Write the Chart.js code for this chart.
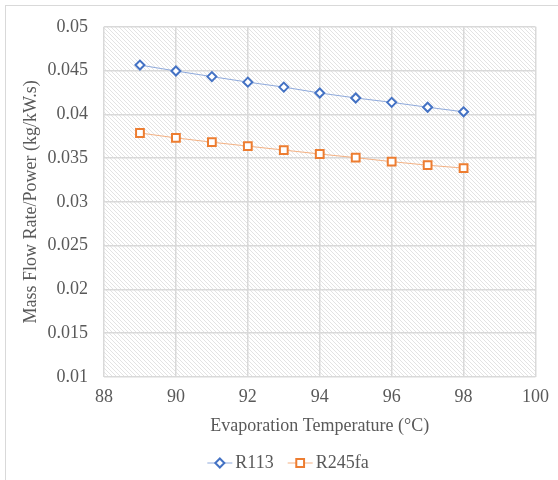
<!DOCTYPE html>
<html>
<head>
<meta charset="utf-8">
<title>Mass Flow Rate / Power</title>
<script src="https://cdn.jsdelivr.net/npm/chart.js@4.4.1/dist/chart.umd.min.js"></script>
<style>
  html, body { margin: 0; padding: 0; background: #fff; }
  #wrap { width: 558px; height: 480px; position: relative; }
</style>
</head>
<body>
<div id="wrap"><canvas id="flowChart" width="558" height="480"></canvas></div>
<script>
// Evaporation temperature (°C) and mass flow rate per unit power (kg/kW.s)
const temperatures = [89, 90, 91, 92, 93, 94, 95, 96, 97, 98];
const r113Values = [0.04563, 0.04495, 0.04431, 0.04368, 0.04311, 0.04244, 0.04187, 0.04137, 0.04081, 0.04029];
const r245faValues = [0.03787, 0.03731, 0.03682, 0.03637, 0.03592, 0.03547, 0.03505, 0.0346, 0.03419, 0.03386];
const seriesNames = ["R113", "R245fa"];
const xTicks = [88, 90, 92, 94, 96, 98, 100];
const yTicks = [0.01, 0.015, 0.02, 0.025, 0.03, 0.035, 0.04, 0.045, 0.05];

const FONT = "'Liberation Serif', 'Times New Roman', serif";
const FONT_SIZE = 18;
const TEXT_COLOR = "#595959";
const GRID_COLOR = "#d9d9d9";

// Fine diagonal hatch used to fill the plot area
function makeHatch(ctx) {
  const c = document.createElement("canvas");
  c.width = 4;
  c.height = 4;
  const g = c.getContext("2d");
  g.fillStyle = "#ffffff";
  g.fillRect(0, 0, 4, 4);
  g.strokeStyle = "#e3e3e3";
  g.lineWidth = 1;
  g.beginPath();
  g.moveTo(-1, -1); g.lineTo(5, 5);
  g.moveTo(-1, 3); g.lineTo(1, 5);
  g.moveTo(3, -1); g.lineTo(5, 1);
  g.stroke();
  return ctx.createPattern(c, "repeat");
}

const hatchPlugin = {
  id: "hatch",
  beforeDraw(chart) {
    const { ctx, chartArea } = chart;
    ctx.save();
    // outer frame of the figure
    ctx.strokeStyle = GRID_COLOR;
    ctx.lineWidth = 1;
    ctx.strokeRect(5.5, 5.5, 600, 520);
    ctx.fillStyle = makeHatch(ctx);
    ctx.fillRect(chartArea.left, chartArea.top, chartArea.right - chartArea.left, chartArea.bottom - chartArea.top);
    ctx.restore();
  }
};

// Legend drawn as line + marker + label, centred under the plot
const lineLegend = {
  id: "lineLegend",
  afterDraw(chart) {
    const ctx = chart.ctx;
    const y = 463;
    const lineLen = 25;
    ctx.save();
    ctx.font = FONT_SIZE + "px " + FONT;
    ctx.textBaseline = "middle";
    const items = chart.data.datasets.map((ds) => ({ ds, w: lineLen + 3 + ctx.measureText(ds.label).width }));
    const gap = 14;
    const total = items.reduce((s, it) => s + it.w, 0) + gap * (items.length - 1);
    let x = 288 - total / 2;
    items.forEach(({ ds, w }) => {
      const cx = x + lineLen / 2;
      ctx.strokeStyle = ds.borderColor;
      ctx.lineWidth = 1;
      ctx.beginPath();
      ctx.moveTo(x, y);
      ctx.lineTo(x + lineLen, y);
      ctx.stroke();
      ctx.fillStyle = "#ffffff";
      ctx.strokeStyle = ds.pointBorderColor;
      ctx.lineWidth = ds.pointBorderWidth;
      ctx.beginPath();
      if (ds.pointStyle === "rect") {
        const s = ds.pointRadius * Math.SQRT1_2;
        ctx.rect(cx - s, y - s, 2 * s, 2 * s);
      } else {
        const r = ds.pointRadius;
        ctx.moveTo(cx, y - r);
        ctx.lineTo(cx + r, y);
        ctx.lineTo(cx, y + r);
        ctx.lineTo(cx - r, y);
        ctx.closePath();
      }
      ctx.fill();
      ctx.stroke();
      ctx.fillStyle = TEXT_COLOR;
      ctx.textAlign = "left";
      ctx.fillText(ds.label, x + lineLen + 3, y);
      x += w + gap;
    });
    ctx.restore();
  }
};

const toPoints = (vals) => vals.map((v, i) => ({ x: temperatures[i], y: v }));

new Chart(document.getElementById("flowChart"), {
  type: "line",
  data: {
    datasets: [
      {
        label: seriesNames[0],
        data: toPoints(r113Values),
        borderColor: "#8faadc",
        borderWidth: 1,
        pointStyle: "rectRot",
        pointRadius: 4.5,
        pointBorderWidth: 2,
        pointBorderColor: "#4472c4",
        pointBackgroundColor: "#ffffff"
      },
      {
        label: seriesNames[1],
        data: toPoints(r245faValues),
        borderColor: "#f4b183",
        borderWidth: 1,
        pointStyle: "rect",
        pointRadius: 5.5,
        pointBorderWidth: 2,
        pointBorderColor: "#ed7d31",
        pointBackgroundColor: "#ffffff"
      }
    ]
  },
  options: {
    responsive: false,
    animation: false,
    events: [],
    layout: { padding: { left: 17, right: 20, top: 22, bottom: 43 } },
    plugins: {
      legend: { display: false },
      tooltip: { enabled: false }
    },
    scales: {
      x: {
        type: "linear",
        min: xTicks[0],
        max: xTicks[xTicks.length - 1],
        afterBuildTicks: (scale) => { scale.ticks = xTicks.map((v) => ({ value: v })); },
        afterFit: (scale) => { scale.height = 60; },
        grid: { color: GRID_COLOR, lineWidth: 1.5, drawTicks: false },
        border: { display: false },
        ticks: { color: TEXT_COLOR, font: { family: FONT, size: FONT_SIZE }, padding: 9 },
        title: {
          display: true,
          text: "Evaporation Temperature (°C)",
          color: TEXT_COLOR,
          font: { family: FONT, size: FONT_SIZE },
          padding: { top: 3, bottom: 0 }
        }
      },
      y: {
        min: yTicks[0],
        max: yTicks[yTicks.length - 1],
        afterBuildTicks: (scale) => { scale.ticks = yTicks.map((v) => ({ value: v })); },
        afterFit: (scale) => { scale.width = 87; },
        grid: { color: GRID_COLOR, lineWidth: 1.5, drawTicks: false },
        border: { display: false },
        ticks: {
          color: TEXT_COLOR,
          font: { family: FONT, size: FONT_SIZE },
          padding: 16,
          callback: (v) => String(+v.toFixed(3))
        },
        title: {
          display: true,
          text: "Mass Flow Rate/Power (kg/kW.s)",
          color: TEXT_COLOR,
          font: { family: FONT, size: FONT_SIZE },
          padding: { top: 3, bottom: 0 }
        }
      }
    }
  },
  plugins: [hatchPlugin, lineLegend]
});
</script>
</body>
</html>
